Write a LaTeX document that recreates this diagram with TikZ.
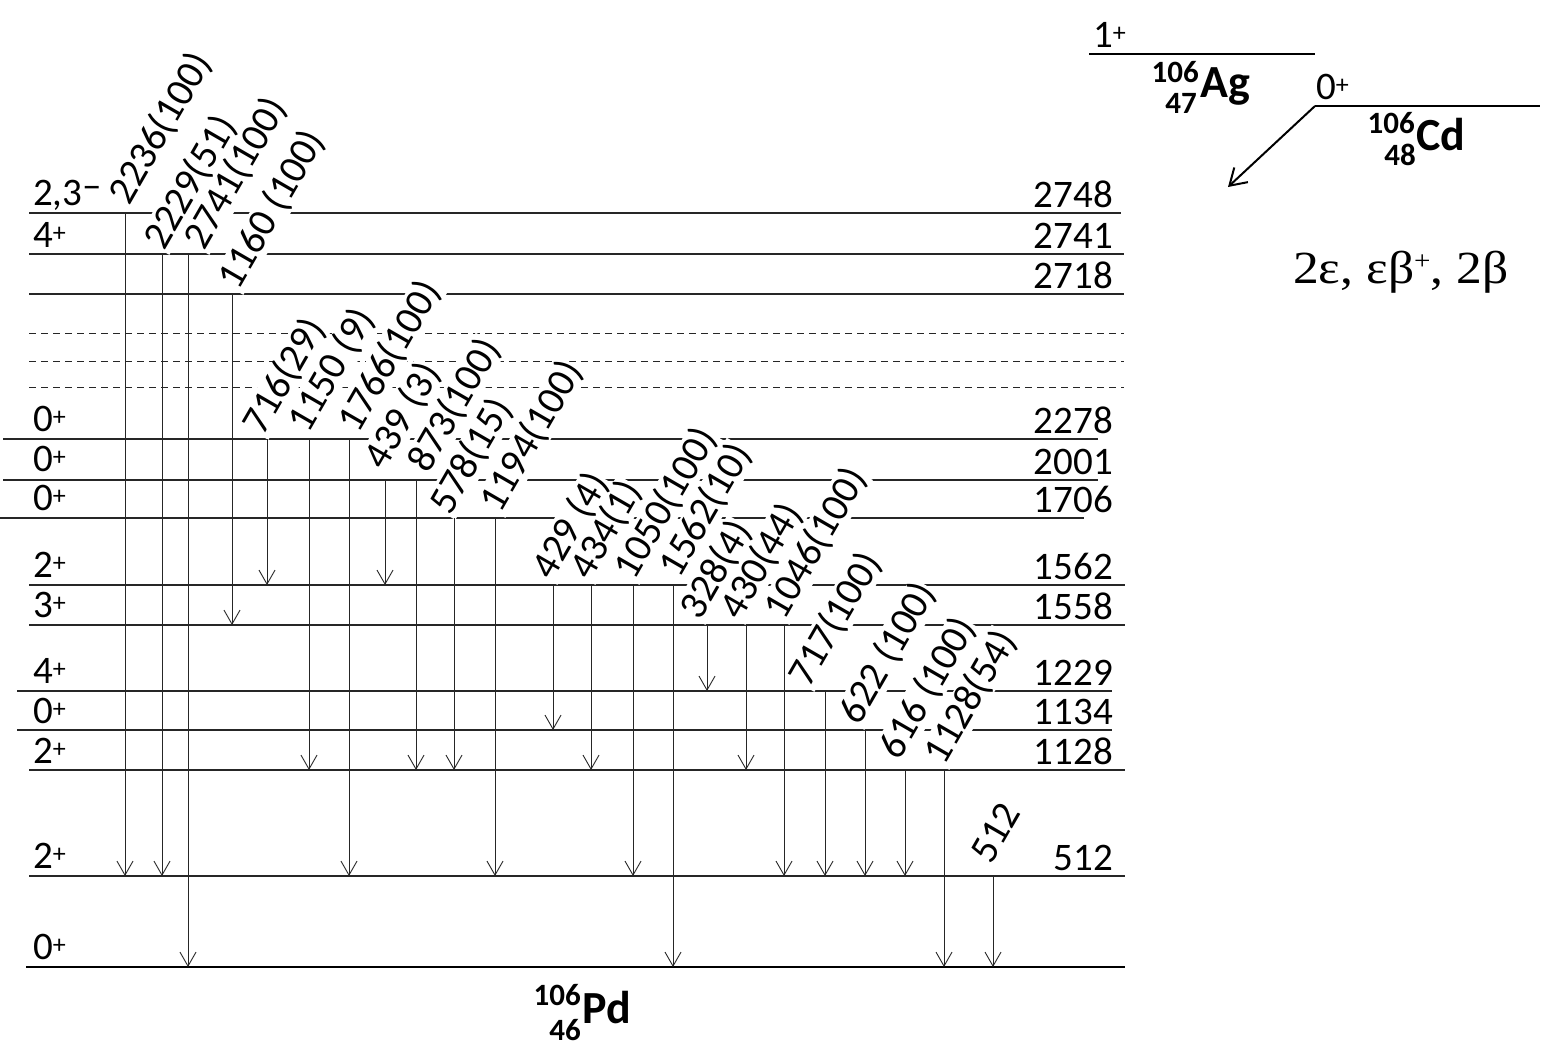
\documentclass[tikz,border=0pt]{standalone}
\usepackage{fontspec}
\setmainfont{Carlito}
\newfontfamily\serifgr{Liberation Serif}
\usetikzlibrary{arrows.meta}
\newcommand{\pl}{\raisebox{6pt}{\fontsize{26}{26}\selectfont +}}
\newcommand{\mn}{\raisebox{7pt}{–}}
\begin{document}
\begin{tikzpicture}[x=1pt,y=-1pt,
  lvl/.style={line width=1.4pt, draw=black!85},
  lvldash/.style={line width=1pt, draw=black!85, dash pattern=on 7pt off 5pt},
  gnd/.style={line width=2.8pt, draw=black},
  gam/.style={line width=0.9pt, draw=black!85, -{Straight Barb[length=14pt,width=16pt,line width=0.9pt]}},
  glab/.style={rotate=60, anchor=base west, inner sep=0.5pt, font=\fontsize{40}{42}\selectfont},
  glabbg/.style={glab, fill=white},
  en/.style={anchor=base east, inner sep=0pt, font=\fontsize{39}{40}\selectfont},
  spin/.style={anchor=base west, inner sep=0pt, font=\fontsize{39}{40}\selectfont},
  nucA/.style={anchor=base west, inner sep=0pt, font=\fontsize{46}{48}\selectfont\bfseries},
  nucN/.style={anchor=base east, inner sep=0pt, font=\fontsize{31}{32}\selectfont\bfseries},
  mom/.style={line width=2pt, draw=black},
  big/.style={line width=2pt, draw=black, -{Straight Barb[length=16pt,width=20pt,line width=2pt]}},
]
\useasboundingbox (0,0) rectangle (1559,1060);

% Pd levels
\foreach \n/\xa/\xb/\y in {2748/29/1121/213, 2741/29/1124/254, 2718/29/1124/294,
   2278/3/1098/439, 2001/3/1098/480, 1706/0/1084/518, 1562/29/1125/585,
   1558/29/1125/625, 1229/17/1112/691, 1134/17/1112/730, 1128/29/1125/770, 512/29/1125/876}
{\coordinate (La\n) at (\xa,\y); \coordinate (Lb\n) at (\xb,\y); \draw[lvl] (La\n) -- (Lb\n);}
\foreach \n/\y in {1/333, 2/361, 3/387}
{\coordinate (Da\n) at (29,\y); \coordinate (Db\n) at (1124,\y); \draw[lvldash] (Da\n) -- (Db\n);}
\coordinate (La0) at (26,967); \coordinate (Lb0) at (1125,967);
\draw[gnd] (La0) -- (Lb0);

% gamma labels: white backgrounds first, then the texts
\def\glist{2236/129/207/2236(100), 2229/164/252/2229(51), 2741/204/252/2741(100),
  1160/238/292/1160 (100), 716/263/437/716(29), 1150/308/435/1150 (9), 1766/358/435/1766(100),
  439/384/472/439 (3), 873/428/475/873(100), 578/450/517/578(15), 1194/500/515/1194(100),
  429/552/582/429 (4), 434/590/582/434(1), 1050/634/582/1050(100), 1562/679/580/1562(10),
  328/700/622/328(4), 430/740/622/430(44), 1046/784/622/1046(100), 717/809/689/717(100),
  622/859/727/622 (100), 616/899/762/616 (100), 1128/944/767/1128(54), 512/991/866/512}
\foreach \n/\x/\y/\t in \glist {\node[glabbg] (b\n) at (\x,\y) {\phantom{\t}};}
\foreach \n/\x/\y/\t in \glist {\node[glab] (g\n) at (\x,\y) {\t};}

% gamma transitions
\foreach \n/\x/\a/\b in {2236/125/213/876, 2229/162/254/876, 2741/188/254/967, 1160/232/294/625,
  716/267/439/585, 1150/309/439/770, 1766/349/439/876, 439/385/480/585, 873/416/480/770,
  578/454/518/770, 1194/495/518/876, 429/553/585/730, 434/591/585/770, 1050/633/585/876,
  1562/673/585/967, 328/707/625/691, 430/746/625/770, 1046/784/625/876, 717/825/691/876,
  622/865/730/876, 616/905/770/876, 1128/944/770/967, 512/993/876/967}
{\coordinate (s\n) at (\x,\a); \coordinate (e\n) at (\x,\b); \draw[gam] (s\n) -- (e\n);}

% energies
\foreach \n/\y in {2748/207, 2741/248, 2718/288, 2278/433, 2001/474, 1706/512, 1562/579,
  1558/619, 1229/685, 1134/724, 1128/764, 512/870}
{\node[en] (E\n) at (1113,\y) {\n};}

% spins
\node[spin] (S2748) at (33,205) {2,3\mn};
\node[spin] (S2741) at (33,247) {4\pl};
\node[spin] (S2278) at (33,431) {0\pl};
\node[spin] (S2001) at (33,471) {0\pl};
\node[spin] (S1706) at (33,510) {0\pl};
\node[spin] (S1562) at (33,577) {2\pl};
\node[spin] (S1558) at (33,617) {3\pl};
\node[spin] (S1229) at (33,683) {4\pl};
\node[spin] (S1134) at (33,723) {0\pl};
\node[spin] (S1128) at (33,763) {2\pl};
\node[spin] (S512) at (33,868) {2\pl};
\node[spin] (S0) at (33,959) {0\pl};

% Pd name
\node[nucA] (Pd) at (582,1023) {Pd};
\node[nucN] (PdA) at (581,1005) {106};
\node[nucN] (PdZ) at (581,1040) {46};

% Ag
\coordinate (AgL) at (1089,54); \coordinate (AgR) at (1315,54);
\draw[mom] (AgL) -- (AgR);
\node[spin] (SAg) at (1093,47) {1\pl};
\node[nucA] (Ag) at (1200,97) {Ag};
\node[nucN] (AgA) at (1199,82) {106};
\node[nucN] (AgZ) at (1197,113) {47};

% Cd
\coordinate (CdL) at (1315,106); \coordinate (CdR) at (1540,106);
\draw[mom] (CdL) -- (CdR);
\node[spin] (SCd) at (1316,99) {0\pl};
\node[nucA] (Cd) at (1416,150) {Cd};
\node[nucN] (CdA) at (1415,133) {106};
\node[nucN] (CdZ) at (1416,165) {48};
\coordinate (tip) at (1228,187);
\draw[big] (CdL) -- (tip);

\node[anchor=base west, inner sep=0pt, xscale=1.12, font=\serifgr\fontsize{46}{48}\selectfont] (modes) at (1293,283)
  {2ε, εβ\raisebox{14pt}{\fontsize{26}{26}\selectfont +}, 2β};
\end{tikzpicture}
\end{document}
